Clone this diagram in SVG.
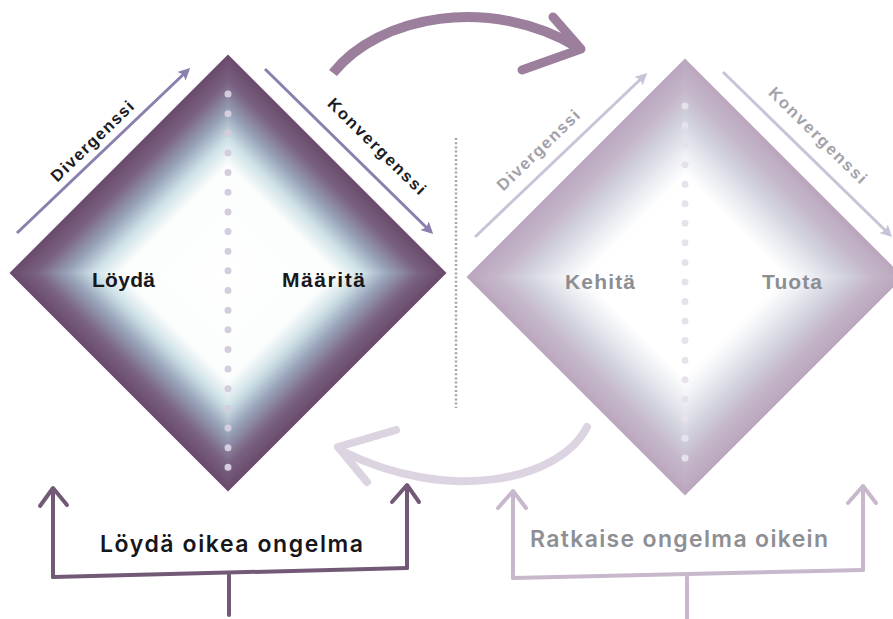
<svg xmlns="http://www.w3.org/2000/svg" width="893" height="619" viewBox="0 0 893 619">
  <defs>
    <!-- edge-to-centre shading for one quarter of a diamond (local coords, centre at 0,0) -->
    <linearGradient id="shadeDark" gradientUnits="userSpaceOnUse" x1="-109" y1="-109" x2="0" y2="0">
      <stop offset="0" stop-color="#6a4a6c"/>
      <stop offset="0.12" stop-color="#7a6282"/>
      <stop offset="0.26" stop-color="#98a3ba"/>
      <stop offset="0.38" stop-color="#cde0e6"/>
      <stop offset="0.5" stop-color="#fbfdfd"/>
      <stop offset="1" stop-color="#ffffff"/>
    </linearGradient>
    <linearGradient id="shadeLight" gradientUnits="userSpaceOnUse" x1="-109" y1="-109" x2="0" y2="0">
      <stop offset="0" stop-color="#baa6be"/>
      <stop offset="0.14" stop-color="#c5b8cb"/>
      <stop offset="0.28" stop-color="#d3d4df"/>
      <stop offset="0.42" stop-color="#eceef3"/>
      <stop offset="0.54" stop-color="#ffffff"/>
      <stop offset="1" stop-color="#ffffff"/>
    </linearGradient>
    <path id="quarter" d="M0 -218.5 L-218.5 0 L0 0 Z"/>
    <marker id="headDark" viewBox="0 0 12 12" markerWidth="12" markerHeight="12" refX="9" refY="6" orient="auto" markerUnits="userSpaceOnUse">
      <path d="M0 0 L12 6 L0 12 L2.5 6 Z" fill="#8a7fad"/>
    </marker>
    <marker id="headLight" viewBox="0 0 12 12" markerWidth="12" markerHeight="12" refX="9" refY="6" orient="auto" markerUnits="userSpaceOnUse">
      <path d="M0 0 L12 6 L0 12 L2.5 6 Z" fill="#c9c3d8"/>
    </marker>
  </defs>
  <style>
    .axisDark { stroke: #8a7fad; stroke-width: 3; fill: none; marker-end: url(#headDark); }
    .axisLight { stroke: #c9c3d8; stroke-width: 3; fill: none; marker-end: url(#headLight); }
    .diag { font-family: "Liberation Sans", Arial, sans-serif; font-weight: bold; font-size: 16.5px; text-anchor: middle; }
    .diagDark { fill: #1c1c24; }
    .diagLight { fill: #a3a2aa; }
    .phase { font-family: "Liberation Sans", Arial, sans-serif; font-weight: bold; font-size: 21px; }
    .phaseDark { fill: #17171c; }
    .phaseLight { fill: #8d8e93; }
    .goal { font-family: Inter, "Liberation Sans", sans-serif; font-weight: 600; font-size: 23px; }
    .bracketDark { stroke: #725a77; stroke-width: 4; fill: none; stroke-linecap: round; stroke-linejoin: round; }
    .bracketLight { stroke: #c8b8cb; stroke-width: 4; fill: none; stroke-linecap: round; stroke-linejoin: round; }
  </style>

  <rect width="893" height="619" fill="#ffffff"/>

  <!-- first diamond: Löydä / Määritä -->
  <g id="diamond-left">
    <g transform="translate(228,273)">
      <use href="#quarter" fill="url(#shadeDark)"/>
      <use href="#quarter" fill="url(#shadeDark)" transform="rotate(90)"/>
      <use href="#quarter" fill="url(#shadeDark)" transform="rotate(180)"/>
      <use href="#quarter" fill="url(#shadeDark)" transform="rotate(270)"/>
    </g>
    <line x1="228" y1="94" x2="228" y2="468" stroke="#d3cddd" stroke-width="7" stroke-linecap="round" stroke-dasharray="0 19.65"/>
    <text class="phase phaseDark" x="92" y="287" textLength="63">Löydä</text>
    <text class="phase phaseDark" x="282" y="287" textLength="83">Määritä</text>
  </g>

  <!-- second diamond: Kehitä / Tuota -->
  <g id="diamond-right">
    <g transform="translate(685,277)">
      <use href="#quarter" fill="url(#shadeLight)"/>
      <use href="#quarter" fill="url(#shadeLight)" transform="rotate(90)"/>
      <use href="#quarter" fill="url(#shadeLight)" transform="rotate(180)"/>
      <use href="#quarter" fill="url(#shadeLight)" transform="rotate(270)"/>
    </g>
    <line x1="685" y1="106" x2="685" y2="458" stroke="#e6e2ec" stroke-width="7" stroke-linecap="round" stroke-dasharray="0 19.55"/>
    <text class="phase phaseLight" x="565" y="289" textLength="70">Kehitä</text>
    <text class="phase phaseLight" x="762" y="289" textLength="60">Tuota</text>
  </g>

  <!-- divider between the two phases -->
  <g id="divider">
    <line x1="456" y1="138" x2="456" y2="408" stroke="#a3a3b3" stroke-width="2.5" stroke-dasharray="2 2.2"/>
  </g>

  <!-- divergence / convergence labels -->
  <g id="labels-left">
    <g transform="translate(92,141) rotate(-44)"><text class="diag diagDark" x="0" y="6" textLength="108">Divergenssi</text></g>
    <g transform="translate(377,146) rotate(44.5)"><text class="diag diagDark" x="0" y="6" textLength="130">Konvergenssi</text></g>
  </g>
  <g id="labels-right">
    <g transform="translate(538,150) rotate(-44)"><text class="diag diagLight" x="0" y="6" textLength="108">Divergenssi</text></g>
    <g transform="translate(818,135) rotate(44.5)"><text class="diag diagLight" x="0" y="6" textLength="130">Konvergenssi</text></g>
  </g>

  <!-- goal captions -->
  <g id="goal-left">
    <text class="goal" x="100" y="552" textLength="263" fill="#16161b">Löydä oikea ongelma</text>
  </g>
  <g id="goal-right">
    <text class="goal" x="530" y="547" textLength="298" fill="#8e8f94">Ratkaise ongelma oikein</text>
  </g>

  <!-- connectors -->
  <g id="connectors">
    <!-- diagonal direction arrows -->
    <line class="axisDark" x1="17" y1="233" x2="188" y2="70"/>
    <line class="axisDark" x1="265" y1="69" x2="431" y2="232"/>
    <line class="axisLight" x1="475" y1="237" x2="645" y2="75"/>
    <line class="axisLight" x1="723" y1="72" x2="890" y2="235"/>

    <!-- forward sweep over the top -->
    <g stroke="#9b7f9d" fill="none" stroke-linejoin="round">
      <path d="M333 73 C378 16, 490 -6, 579 48" stroke-width="10"/>
      <path d="M553 17 L581 49 L522 70" stroke-width="9" stroke-linecap="round"/>
    </g>

    <!-- return sweep underneath -->
    <g stroke="#ddd4e1" fill="none" stroke-linejoin="round" stroke-linecap="round">
      <path d="M587 427 C560 480, 450 505, 342 451" stroke-width="8"/>
      <path d="M396 430 L338 447 L367 482" stroke-width="8"/>
    </g>

    <!-- bracket under the first diamond -->
    <g class="bracketDark">
      <path d="M229 615 L229 575"/>
      <path d="M53 577 L407 568"/>
      <path d="M53 577 L53 489"/>
      <path d="M40 506 L53 488 L67 505"/>
      <path d="M407 568 L407 486"/>
      <path d="M392 502 L407 485 L419 502"/>
    </g>

    <!-- bracket under the second diamond -->
    <g class="bracketLight">
      <path d="M687 619 L687 577"/>
      <path d="M513 578 L863 570"/>
      <path d="M513 578 L513 492"/>
      <path d="M498 508 L513 491 L526 508"/>
      <path d="M863 570 L863 487"/>
      <path d="M848 503 L863 486 L876 503"/>
    </g>
  </g>
</svg>
